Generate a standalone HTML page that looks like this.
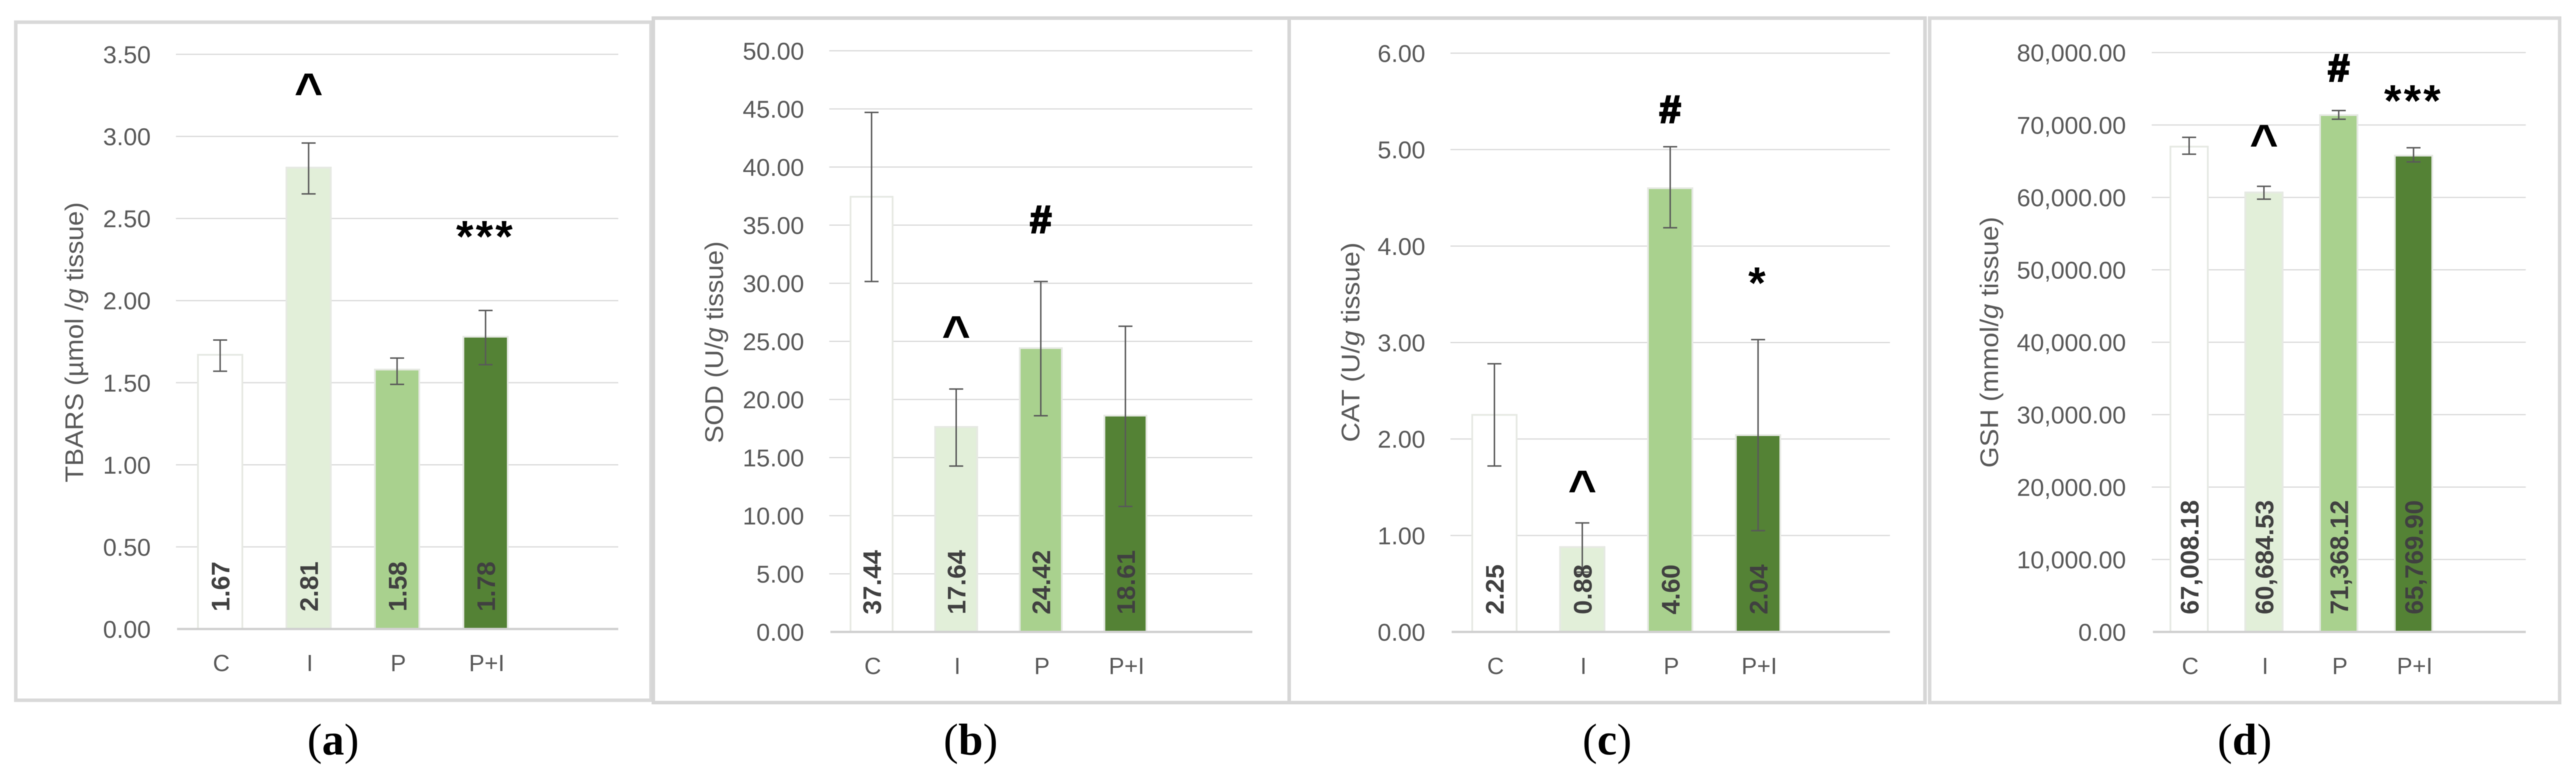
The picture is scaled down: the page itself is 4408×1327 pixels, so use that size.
<!DOCTYPE html>
<html lang="en">
<head>
<meta charset="utf-8">
<title>Oxidative stress markers</title>
<style>
html,body{margin:0;padding:0;background:#fff;width:4408px;height:1327px;overflow:hidden}
svg{display:block;font-family:"Liberation Sans",sans-serif;filter:blur(0.8px)}
</style>
</head>
<body>
<svg id="figure" xmlns="http://www.w3.org/2000/svg" width="4408" height="1327" viewBox="0 0 4408 1327"></svg>
<script>
// ---------- data ----------
const categories = ["C", "I", "P", "P+I", ""];

const tbarsTicks = [0, 0.5, 1, 1.5, 2, 2.5, 3, 3.5];
const tbarsValues = [1.67, 2.81, 1.58, 1.78];
const tbarsErrHigh = [1.76, 2.96, 1.65, 1.94];
const tbarsErrLow = [1.57, 2.65, 1.49, 1.61];
const tbarsMarks = ["", "^", "", "***"];
const tbarsMarkLevels = [0, 3.33, 0, 2.45];

const sodTicks = [0, 5, 10, 15, 20, 25, 30, 35, 40, 45, 50];
const sodValues = [37.44, 17.64, 24.42, 18.61];
const sodErrHigh = [44.7, 20.9, 30.15, 26.3];
const sodErrLow = [30.15, 14.27, 18.6, 10.8];
const sodMarks = ["", "^", "#", ""];
const sodMarkLevels = [0, 26.4, 35.5, 0];

const catTicks = [0, 1, 2, 3, 4, 5, 6];
const catValues = [2.25, 0.88, 4.60, 2.04];
const catErrHigh = [2.78, 1.13, 5.03, 3.03];
const catErrLow = [1.72, 0.62, 4.19, 1.05];
const catMarks = ["", "^", "#", "*"];
const catMarkLevels = [0, 1.58, 5.42, 3.72];

const gshTicks = [0, 10000, 20000, 30000, 40000, 50000, 60000, 70000, 80000];
const gshValues = [67008.18, 60684.53, 71368.12, 65769.90];
const gshErrHigh = [68300, 61530, 72000, 66850];
const gshErrLow = [65970, 59760, 70800, 64900];
const gshMarks = ["", "^", "#", "***"];
const gshMarkLevels = [0, 68800, 77900, 74700];

// ---------- styles and layout ----------
const barFills = ["#ffffff", "#e2efd9", "#a9d18e", "#548235"];
const NS = "http://www.w3.org/2000/svg";
const svg = document.getElementById("figure");

function make(tag, attrs, parent, text) {
  const node = document.createElementNS(NS, tag);
  for (const k in attrs) node.setAttribute(k, attrs[k]);
  if (text !== undefined) node.textContent = text;
  parent.appendChild(node);
  return node;
}
function fmt(v) {
  return v.toLocaleString("en-US", {minimumFractionDigits: 2, maximumFractionDigits: 2});
}

const panels = [
  {key: "tbars", caption: "a", ticks: tbarsTicks, values: tbarsValues, hi: tbarsErrHigh, lo: tbarsErrLow, marks: tbarsMarks, levels: tbarsMarkLevels,
   box: [27, 38, 1114, 1199], border: "#d9d9d9", x0: 301, x1: 1058, y0: 1077, y1: 93, barW: 76, tickX: 258, tickFont: 42,
   title: ["TBARS (µmol /", "g", " tissue)"], titleX: 127, titleLen: 480, captionX: 570},
  {key: "sod", caption: "b", ticks: sodTicks, values: sodValues, hi: sodErrHigh, lo: sodErrLow, marks: sodMarks, levels: sodMarkLevels,
   box: [1118, 31, 2208, 1203], border: "#d6d6d6", x0: 1419, x1: 2143, y0: 1082, y1: 87, barW: 72, tickX: 1376, tickFont: 42,
   title: ["SOD (U/", "g", " tissue)"], titleX: 1222, titleLen: 346, captionX: 1661},
  {key: "cat", caption: "c", ticks: catTicks, values: catValues, hi: catErrHigh, lo: catErrLow, marks: catMarks, levels: catMarkLevels,
   box: [2206, 31, 3294, 1203], border: "#d6d6d6", x0: 2482, x1: 3234, y0: 1082, y1: 91, barW: 76, tickX: 2439, tickFont: 42,
   title: ["CAT (U/", "g", " tissue)"], titleX: 2311, titleLen: 342, captionX: 2750},
  {key: "gsh", caption: "d", ticks: gshTicks, values: gshValues, hi: gshErrHigh, lo: gshErrLow, marks: gshMarks, levels: gshMarkLevels,
   box: [3302, 31, 4380, 1203], border: "#d9d9d9", x0: 3682, x1: 4322, y0: 1082, y1: 90, barW: 64, tickX: 3638, tickFont: 42,
   title: ["GSH (mmol/", "g", " tissue)"], titleX: 3404, titleLen: 430, captionX: 3841}
];

function markStyle(sym) {
  if (sym === "#") return {size: 66, dy: 23, stroke: 3, spacing: 0};
  if (sym === "^") return {size: 84, dy: 43, stroke: 0, spacing: 0};
  return {size: 76, dy: 43, stroke: 0, spacing: 4};
}

panels.forEach(function (p) {
  const maxTick = p.ticks[p.ticks.length - 1];
  const yScale = function (v) { return p.y0 + (p.y1 - p.y0) * v / maxTick; };
  const band = (p.x1 - p.x0) / categories.length;
  const xScale = function (i) { return p.x0 + band * (i + 0.5); };

  const g = make("g", {}, svg);
  
  

  const frame = make("rect", {x: p.box[0], y: p.box[1], width: p.box[2] - p.box[0], height: p.box[3] - p.box[1], fill: "#fff", stroke: p.border, "stroke-width": 6}, g);
  
  

  p.ticks.forEach(function (t) {
    const y = yScale(t);
    if (t !== 0) {
      const line = make("line", {x1: p.x0, x2: p.x1, y1: y, y2: y, stroke: "#d9d9d9", "stroke-width": 2}, g);
      
      
    }
    const label = make("text", {x: p.tickX, y: y + 15, "text-anchor": "end", "font-size": p.tickFont, fill: "#595959"}, g, fmt(t));
    
    
  });

  const title = make("text", {transform: "rotate(-90 " + (p.titleX + 15) + " 586)", x: p.titleX + 15, y: 586, "text-anchor": "middle", "font-size": 44, fill: "#595959", textLength: p.titleLen, lengthAdjust: "spacingAndGlyphs"}, g);
  
  
  make("tspan", {}, title, p.title[0]);
  make("tspan", {"font-style": "italic"}, title, p.title[1]);
  make("tspan", {}, title, p.title[2]);

  categories.forEach(function (c, i) {
    if (!c) return;
    const label = make("text", {x: xScale(i) + 2, y: p.y0 + 72, "text-anchor": "middle", "font-size": 40, fill: "#595959"}, g, c);
    
    
  });

  p.values.forEach(function (v, i) {
    const bar = make("rect", {x: xScale(i) - p.barW / 2, y: yScale(v), width: p.barW, height: p.y0 - yScale(v), fill: barFills[i], stroke: "#e6e9e3", "stroke-width": 3}, g);
    
    
  });

  const axis = make("line", {x1: p.x0 + 2, x2: p.x1, y1: p.y0, y2: p.y0, stroke: "#d0d0d0", "stroke-width": 4}, g);
  
  

  p.values.forEach(function (v, i) {
    const x = xScale(i);
    const stem = make("line", {x1: x, x2: x, y1: yScale(p.hi[i]), y2: yScale(p.lo[i]), stroke: "#595959", "stroke-width": 2.5}, g);
    
    
    [p.hi[i], p.lo[i]].forEach(function (e) {
      const cap = make("line", {x1: x - 12, x2: x + 12, y1: yScale(e), y2: yScale(e), stroke: "#595959", "stroke-width": 2.5}, g);
      
      
    });
    const lx = x + 16, ly = p.y0 - 30;
    const label = make("text", {transform: "rotate(-90 " + lx + " " + ly + ")", x: lx, y: ly, "font-size": 44, "font-weight": "bold", fill: "#404040"}, g, fmt(v));
    
    
  });

  p.marks.forEach(function (m, i) {
    if (!m) return;
    const s = markStyle(m.charAt(0));
    const mark = make("text", {x: xScale(i), y: yScale(p.levels[i]) + s.dy, "text-anchor": "middle", "font-size": s.size, "font-weight": "bold", fill: "#000", stroke: "#000", "stroke-width": s.stroke, "letter-spacing": s.spacing}, g, m);
    
    
  });

  const cap = make("text", {x: p.captionX, y: 1292, "text-anchor": "middle", "font-size": 76, fill: "#000", style: "font-family:'Liberation Serif',serif"}, svg);
  
  
  make("tspan", {}, cap, "(");
  make("tspan", {"font-weight": "bold"}, cap, p.caption);
  make("tspan", {}, cap, ")");
});
</script>
</body>
</html>
